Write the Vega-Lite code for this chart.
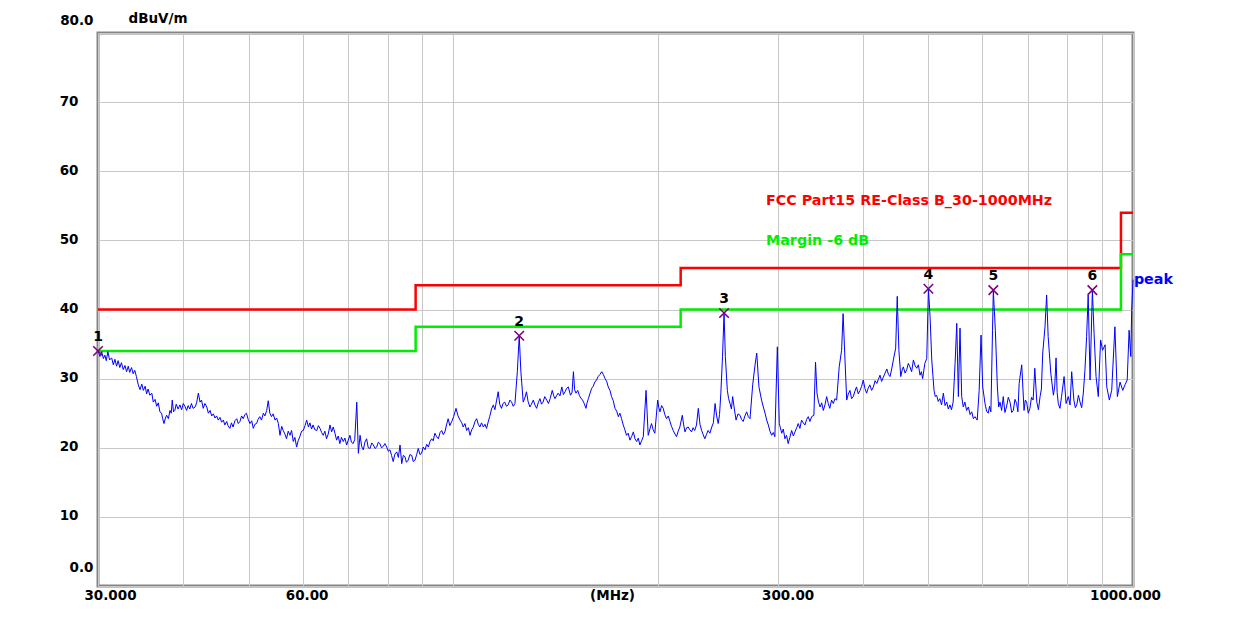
{
"$schema": "https://vega.github.io/schema/vega-lite/v6.json",
"width": 1035, "height": 553,
"autosize": "none",
"padding": {"left": 98, "top": 33, "right": 122, "bottom": 39},
"background": "white",
"config": {"view": {"stroke": "#858585", "strokeWidth": 3}, "font": "DejaVu Sans"},
"datasets": {
"limits": [
{"series":"limit","f":30,"v":40},{"series":"limit","f":88,"v":43.5},{"series":"limit","f":216,"v":46},{"series":"limit","f":960,"v":54},{"series":"limit","f":1000,"v":54},
{"series":"margin","f":30,"v":34},{"series":"margin","f":88,"v":37.5},{"series":"margin","f":216,"v":40},{"series":"margin","f":960,"v":48},{"series":"margin","f":1000,"v":48}
],
"trace": [
{"f":30.0,"v":34.0},{"f":30.2,"v":33.2},{"f":30.38,"v":33.9},{"f":30.55,"v":32.9},{"f":30.71,"v":33.4},{"f":30.85,"v":32.6},{"f":31.02,"v":33.9},{"f":31.2,"v":32.7},{"f":31.42,"v":33.0},{"f":31.6,"v":32.0},{"f":31.77,"v":32.8},{"f":31.95,"v":31.8},{"f":32.12,"v":32.6},{"f":32.3,"v":31.6},{"f":32.48,"v":32.3},{"f":32.68,"v":31.3},{"f":32.87,"v":31.9},{"f":33.05,"v":31.0},{"f":33.24,"v":31.8},{"f":33.4,"v":30.9},{"f":33.61,"v":31.6},{"f":33.8,"v":30.7},{"f":33.98,"v":31.2},{"f":34.17,"v":30.3},{"f":34.39,"v":29.1},{"f":34.59,"v":28.4},{"f":34.8,"v":29.2},{"f":34.98,"v":28.3},{"f":35.2,"v":28.9},{"f":35.37,"v":27.8},{"f":35.55,"v":28.5},{"f":35.76,"v":27.6},{"f":36.0,"v":27.9},{"f":36.18,"v":26.6},{"f":36.4,"v":27.0},{"f":36.60,"v":26.0},{"f":36.8,"v":26.5},{"f":37.0,"v":25.2},{"f":37.21,"v":25.0},{"f":37.35,"v":24.2},{"f":37.52,"v":23.5},{"f":37.7,"v":24.3},{"f":37.86,"v":24.7},{"f":38.08,"v":24.2},{"f":38.28,"v":25.4},{"f":38.45,"v":25.0},{"f":38.58,"v":26.9},{"f":38.75,"v":25.2},{"f":38.92,"v":25.4},{"f":39.1,"v":26.3},{"f":39.35,"v":25.6},{"f":39.6,"v":26.2},{"f":39.83,"v":25.5},{"f":40.05,"v":26.4},{"f":40.27,"v":26.0},{"f":40.5,"v":25.4},{"f":40.72,"v":26.1},{"f":40.95,"v":25.6},{"f":41.17,"v":26.4},{"f":41.4,"v":25.7},{"f":41.69,"v":25.9},{"f":41.9,"v":26.5},{"f":42.15,"v":27.9},{"f":42.39,"v":26.6},{"f":42.6,"v":26.9},{"f":42.85,"v":25.7},{"f":43.1,"v":26.4},{"f":43.37,"v":25.9},{"f":43.6,"v":25.0},{"f":43.86,"v":25.4},{"f":44.1,"v":24.6},{"f":44.34,"v":24.9},{"f":44.6,"v":24.3},{"f":44.84,"v":24.6},{"f":45.1,"v":24.0},{"f":45.36,"v":24.4},{"f":45.6,"v":23.7},{"f":45.87,"v":24.0},{"f":46.1,"v":23.3},{"f":46.40,"v":23.8},{"f":46.6,"v":23.2},{"f":46.90,"v":22.8},{"f":47.15,"v":23.6},{"f":47.41,"v":23.0},{"f":47.7,"v":23.9},{"f":48.0,"v":24.2},{"f":48.25,"v":23.5},{"f":48.53,"v":23.8},{"f":48.8,"v":24.6},{"f":49.07,"v":24.2},{"f":49.35,"v":24.8},{"f":49.61,"v":25.0},{"f":49.9,"v":24.1},{"f":50.21,"v":23.5},{"f":50.5,"v":23.9},{"f":50.77,"v":22.8},{"f":51.05,"v":23.4},{"f":51.34,"v":23.5},{"f":51.6,"v":24.1},{"f":51.90,"v":24.5},{"f":52.2,"v":24.0},{"f":52.53,"v":25.0},{"f":52.8,"v":24.6},{"f":53.13,"v":25.4},{"f":53.41,"v":26.8},{"f":53.7,"v":25.0},{"f":54.01,"v":24.5},{"f":54.3,"v":24.9},{"f":54.66,"v":24.0},{"f":54.95,"v":24.3},{"f":55.27,"v":23.5},{"f":55.58,"v":21.8},{"f":55.9,"v":23.1},{"f":56.19,"v":22.5},{"f":56.5,"v":22.0},{"f":56.82,"v":21.3},{"f":57.15,"v":22.4},{"f":57.50,"v":21.8},{"f":57.8,"v":22.5},{"f":58.14,"v":20.9},{"f":58.45,"v":21.5},{"f":58.80,"v":20.1},{"f":59.1,"v":21.0},{"f":59.44,"v":21.6},{"f":59.8,"v":22.4},{"f":60.14,"v":22.5},{"f":60.5,"v":23.2},{"f":60.84,"v":24.0},{"f":61.2,"v":23.0},{"f":61.51,"v":23.6},{"f":61.85,"v":22.7},{"f":62.17,"v":23.3},{"f":62.55,"v":22.6},{"f":62.95,"v":22.5},{"f":63.3,"v":23.2},{"f":63.65,"v":22.8},{"f":64.0,"v":22.2},{"f":64.35,"v":21.8},{"f":64.7,"v":22.4},{"f":65.07,"v":21.3},{"f":65.45,"v":22.0},{"f":65.84,"v":23.3},{"f":66.2,"v":22.3},{"f":66.57,"v":23.0},{"f":66.95,"v":22.1},{"f":67.33,"v":21.1},{"f":67.7,"v":21.7},{"f":68.07,"v":20.6},{"f":68.45,"v":21.5},{"f":68.87,"v":20.9},{"f":69.25,"v":21.4},{"f":69.66,"v":20.4},{"f":70.05,"v":21.1},{"f":70.43,"v":21.8},{"f":70.8,"v":20.8},{"f":71.20,"v":20.6},{"f":71.6,"v":21.2},{"f":72.09,"v":26.6},{"f":72.48,"v":19.2},{"f":72.90,"v":21.8},{"f":73.3,"v":20.2},{"f":73.70,"v":19.7},{"f":74.1,"v":20.8},{"f":74.53,"v":21.3},{"f":74.95,"v":20.0},{"f":75.41,"v":19.9},{"f":75.85,"v":20.7},{"f":76.26,"v":20.4},{"f":76.7,"v":19.9},{"f":77.12,"v":20.1},{"f":77.55,"v":20.8},{"f":77.97,"v":20.6},{"f":78.4,"v":20.0},{"f":78.88,"v":20.2},{"f":79.3,"v":20.6},{"f":79.79,"v":20.1},{"f":80.2,"v":19.5},{"f":80.68,"v":19.7},{"f":81.1,"v":18.9},{"f":81.56,"v":18.0},{"f":82.05,"v":19.1},{"f":82.55,"v":19.4},{"f":83.0,"v":18.6},{"f":83.47,"v":20.4},{"f":83.95,"v":17.7},{"f":84.4,"v":18.9},{"f":84.87,"v":18.7},{"f":85.3,"v":17.9},{"f":85.80,"v":18.2},{"f":86.3,"v":19.0},{"f":86.85,"v":18.9},{"f":87.3,"v":18.0},{"f":87.82,"v":18.2},{"f":88.3,"v":19.0},{"f":88.79,"v":19.9},{"f":89.3,"v":19.0},{"f":89.78,"v":19.2},{"f":90.3,"v":20.1},{"f":90.86,"v":19.7},{"f":91.35,"v":20.5},{"f":91.87,"v":20.1},{"f":92.4,"v":20.9},{"f":92.91,"v":21.3},{"f":93.4,"v":21.0},{"f":93.93,"v":22.1},{"f":94.5,"v":21.6},{"f":95.03,"v":21.3},{"f":95.6,"v":22.2},{"f":96.12,"v":22.5},{"f":96.65,"v":21.9},{"f":97.18,"v":22.3},{"f":97.7,"v":23.3},{"f":98.25,"v":24.2},{"f":98.8,"v":23.2},{"f":99.45,"v":23.8},{"f":100.1,"v":24.5},{"f":100.9,"v":25.7},{"f":101.6,"v":24.6},{"f":102.3,"v":24.0},{"f":102.9,"v":23.6},{"f":103.4,"v":23.0},{"f":104.0,"v":23.5},{"f":104.6,"v":22.5},{"f":105.2,"v":22.9},{"f":105.8,"v":21.8},{"f":106.4,"v":22.6},{"f":107.0,"v":23.0},{"f":107.6,"v":23.8},{"f":108.2,"v":24.2},{"f":108.8,"v":23.4},{"f":109.4,"v":23.0},{"f":110.0,"v":23.6},{"f":110.7,"v":23.0},{"f":111.3,"v":23.4},{"f":111.9,"v":22.8},{"f":112.5,"v":23.7},{"f":113.1,"v":24.5},{"f":113.8,"v":25.6},{"f":114.5,"v":26.2},{"f":115.1,"v":25.5},{"f":115.8,"v":26.9},{"f":116.4,"v":28.1},{"f":117.0,"v":26.3},{"f":117.7,"v":25.7},{"f":118.3,"v":26.4},{"f":119.0,"v":26.6},{"f":119.7,"v":26.0},{"f":120.4,"v":26.2},{"f":121.1,"v":26.9},{"f":121.8,"v":26.6},{"f":122.5,"v":26.0},{"f":123.2,"v":26.4},{"f":124.2,"v":31.0},{"f":125.0,"v":36.2},{"f":125.7,"v":31.0},{"f":126.7,"v":26.6},{"f":127.4,"v":27.2},{"f":128.1,"v":28.1},{"f":128.8,"v":26.7},{"f":129.6,"v":25.9},{"f":130.3,"v":26.3},{"f":131.1,"v":26.9},{"f":131.8,"v":26.2},{"f":132.6,"v":25.7},{"f":133.3,"v":26.5},{"f":134.1,"v":27.1},{"f":134.8,"v":26.3},{"f":135.5,"v":26.6},{"f":136.3,"v":27.4},{"f":137.2,"v":26.9},{"f":138.0,"v":26.4},{"f":138.8,"v":27.1},{"f":139.8,"v":28.3},{"f":140.5,"v":27.5},{"f":141.1,"v":27.1},{"f":141.8,"v":27.5},{"f":142.6,"v":27.9},{"f":143.5,"v":27.5},{"f":144.4,"v":28.8},{"f":145.2,"v":27.7},{"f":146.0,"v":28.1},{"f":146.8,"v":28.6},{"f":147.6,"v":28.8},{"f":148.7,"v":27.6},{"f":149.5,"v":28.0},{"f":150.2,"v":31.0},{"f":150.8,"v":28.4},{"f":151.5,"v":27.9},{"f":152.4,"v":28.3},{"f":153.2,"v":27.6},{"f":154.0,"v":27.2},{"f":154.9,"v":26.9},{"f":155.8,"v":26.4},{"f":156.7,"v":25.7},{"f":157.3,"v":26.5},{"f":158.0,"v":27.1},{"f":158.9,"v":27.9},{"f":159.8,"v":28.6},{"f":160.6,"v":28.9},{"f":161.5,"v":29.5},{"f":162.4,"v":29.8},{"f":163.3,"v":30.3},{"f":164.3,"v":30.6},{"f":165.3,"v":31.0},{"f":166.2,"v":30.6},{"f":167.2,"v":30.0},{"f":168.1,"v":29.6},{"f":169.0,"v":28.8},{"f":170.0,"v":28.3},{"f":170.9,"v":27.4},{"f":171.9,"v":26.8},{"f":172.9,"v":25.7},{"f":173.9,"v":25.3},{"f":174.9,"v":24.5},{"f":175.8,"v":25.0},{"f":176.8,"v":24.2},{"f":177.8,"v":23.3},{"f":178.8,"v":22.6},{"f":179.8,"v":21.8},{"f":180.8,"v":22.1},{"f":181.9,"v":21.1},{"f":182.9,"v":21.6},{"f":184.0,"v":22.3},{"f":185.0,"v":21.3},{"f":186.1,"v":20.9},{"f":187.1,"v":21.4},{"f":188.1,"v":20.4},{"f":189.2,"v":21.0},{"f":190.3,"v":21.6},{"f":192.1,"v":28.3},{"f":193.5,"v":21.8},{"f":194.6,"v":22.7},{"f":195.7,"v":23.5},{"f":196.8,"v":22.6},{"f":197.9,"v":22.1},{"f":199.8,"v":26.9},{"f":200.6,"v":25.8},{"f":201.4,"v":25.2},{"f":202.5,"v":26.1},{"f":203.6,"v":25.7},{"f":204.7,"v":24.8},{"f":205.9,"v":24.2},{"f":207.1,"v":24.6},{"f":208.3,"v":23.8},{"f":209.4,"v":23.1},{"f":210.6,"v":22.5},{"f":211.8,"v":22.0},{"f":213.0,"v":21.6},{"f":214.2,"v":22.4},{"f":215.4,"v":23.0},{"f":217.2,"v":24.7},{"f":218.2,"v":23.3},{"f":219.2,"v":22.3},{"f":220.4,"v":22.9},{"f":221.6,"v":23.0},{"f":222.8,"v":22.6},{"f":224.1,"v":22.3},{"f":225.3,"v":22.9},{"f":226.5,"v":22.5},{"f":227.9,"v":23.3},{"f":229.3,"v":25.7},{"f":230.6,"v":23.4},{"f":231.9,"v":22.5},{"f":233.1,"v":21.9},{"f":234.4,"v":21.3},{"f":235.7,"v":21.9},{"f":237.0,"v":22.5},{"f":238.5,"v":22.1},{"f":240.0,"v":23.0},{"f":241.3,"v":23.6},{"f":242.7,"v":26.4},{"f":244.0,"v":24.6},{"f":245.3,"v":23.5},{"f":246.4,"v":24.8},{"f":247.5,"v":27.9},{"f":248.9,"v":33.2},{"f":250.2,"v":39.5},{"f":251.3,"v":33.2},{"f":253.0,"v":28.3},{"f":254.1,"v":27.1},{"f":255.3,"v":26.4},{"f":256.5,"v":25.6},{"f":257.6,"v":27.4},{"f":259.1,"v":25.6},{"f":260.6,"v":24.0},{"f":262.3,"v":24.9},{"f":264.1,"v":24.7},{"f":265.5,"v":24.1},{"f":267.0,"v":23.8},{"f":268.5,"v":24.6},{"f":270.1,"v":25.2},{"f":271.6,"v":24.5},{"f":273.2,"v":24.2},{"f":275.7,"v":29.1},{"f":277.9,"v":32.0},{"f":279.5,"v":33.7},{"f":281.6,"v":28.8},{"f":284.1,"v":26.9},{"f":285.8,"v":25.9},{"f":287.5,"v":25.0},{"f":289.1,"v":24.0},{"f":290.7,"v":23.3},{"f":292.3,"v":22.4},{"f":294.0,"v":21.8},{"f":295.6,"v":22.2},{"f":297.2,"v":21.6},{"f":299.7,"v":34.6},{"f":301.7,"v":23.5},{"f":304.2,"v":22.1},{"f":305.8,"v":22.7},{"f":307.5,"v":21.3},{"f":309.2,"v":21.8},{"f":310.9,"v":20.6},{"f":312.7,"v":21.5},{"f":314.6,"v":22.5},{"f":316.4,"v":21.7},{"f":318.2,"v":22.3},{"f":320.0,"v":22.9},{"f":321.7,"v":23.5},{"f":323.5,"v":22.8},{"f":325.3,"v":24.0},{"f":327.2,"v":23.6},{"f":329.1,"v":23.3},{"f":331.0,"v":24.1},{"f":332.8,"v":24.5},{"f":334.7,"v":23.8},{"f":336.6,"v":24.5},{"f":339.2,"v":24.7},{"f":341.1,"v":32.4},{"f":342.8,"v":27.9},{"f":344.6,"v":26.6},{"f":346.4,"v":25.9},{"f":348.3,"v":26.5},{"f":350.2,"v":25.4},{"f":352.2,"v":26.2},{"f":354.2,"v":27.4},{"f":356.1,"v":26.4},{"f":358.0,"v":25.7},{"f":360.1,"v":26.9},{"f":362.3,"v":26.4},{"f":364.3,"v":27.1},{"f":366.4,"v":26.9},{"f":369.6,"v":31.7},{"f":372.6,"v":34.1},{"f":374.5,"v":39.4},{"f":376.9,"v":32.7},{"f":379.1,"v":26.9},{"f":381.2,"v":27.8},{"f":383.3,"v":28.3},{"f":385.4,"v":27.1},{"f":387.6,"v":27.4},{"f":389.8,"v":28.2},{"f":391.9,"v":28.8},{"f":394.2,"v":27.8},{"f":396.6,"v":28.3},{"f":398.8,"v":28.9},{"f":401.0,"v":29.8},{"f":403.2,"v":28.6},{"f":405.5,"v":27.9},{"f":407.7,"v":28.6},{"f":410.0,"v":29.1},{"f":412.5,"v":28.3},{"f":415.0,"v":28.8},{"f":417.4,"v":29.7},{"f":419.8,"v":29.3},{"f":422.1,"v":29.9},{"f":424.4,"v":30.5},{"f":426.7,"v":29.6},{"f":429.1,"v":30.2},{"f":431.7,"v":30.8},{"f":434.3,"v":31.4},{"f":436.7,"v":30.6},{"f":439.1,"v":30.3},{"f":441.5,"v":31.4},{"f":444.0,"v":32.7},{"f":447.5,"v":34.4},{"f":449.9,"v":41.9},{"f":452.4,"v":34.1},{"f":455.3,"v":30.3},{"f":457.3,"v":31.2},{"f":459.3,"v":31.7},{"f":462.0,"v":30.8},{"f":464.6,"v":31.3},{"f":467.1,"v":32.2},{"f":469.6,"v":31.7},{"f":472.4,"v":31.0},{"f":475.2,"v":32.7},{"f":477.9,"v":31.9},{"f":480.6,"v":31.5},{"f":483.3,"v":32.0},{"f":486.0,"v":30.5},{"f":488.2,"v":31.0},{"f":490.3,"v":30.0},{"f":494.0,"v":32.2},{"f":497.2,"v":32.9},{"f":500.0,"v":43.0},{"f":502.8,"v":39.0},{"f":505.7,"v":32.7},{"f":509.6,"v":28.3},{"f":511.8,"v":27.4},{"f":514.1,"v":27.6},{"f":516.9,"v":26.7},{"f":519.7,"v":27.1},{"f":522.8,"v":26.2},{"f":526.0,"v":27.9},{"f":529.0,"v":26.1},{"f":532.0,"v":26.6},{"f":534.9,"v":25.6},{"f":537.8,"v":26.2},{"f":540.7,"v":25.5},{"f":543.7,"v":26.6},{"f":547.3,"v":32.2},{"f":550.4,"v":38.0},{"f":553.4,"v":27.4},{"f":556.5,"v":37.3},{"f":559.7,"v":27.4},{"f":562.7,"v":25.9},{"f":565.8,"v":26.6},{"f":569.1,"v":25.4},{"f":572.5,"v":25.9},{"f":575.8,"v":24.8},{"f":579.1,"v":25.2},{"f":582.3,"v":24.2},{"f":585.5,"v":24.5},{"f":589.9,"v":24.0},{"f":593.8,"v":28.3},{"f":597.6,"v":36.3},{"f":601.0,"v":28.8},{"f":605.7,"v":26.4},{"f":609.0,"v":25.3},{"f":612.4,"v":25.0},{"f":615.1,"v":26.0},{"f":617.9,"v":25.2},{"f":621.3,"v":37.0},{"f":623.0,"v":42.8},{"f":627.3,"v":37.0},{"f":631.6,"v":28.8},{"f":634.4,"v":25.9},{"f":637.3,"v":26.6},{"f":640.8,"v":25.4},{"f":644.3,"v":27.4},{"f":647.9,"v":25.1},{"f":651.5,"v":25.9},{"f":655.4,"v":27.3},{"f":659.3,"v":26.6},{"f":663.0,"v":25.1},{"f":666.6,"v":25.4},{"f":670.4,"v":27.0},{"f":674.2,"v":26.4},{"f":677.1,"v":25.2},{"f":680.0,"v":29.3},{"f":685.9,"v":32.0},{"f":691.3,"v":25.4},{"f":694.4,"v":26.9},{"f":697.5,"v":26.6},{"f":701.3,"v":25.0},{"f":705.2,"v":25.7},{"f":709.0,"v":27.3},{"f":712.9,"v":26.9},{"f":717.0,"v":31.5},{"f":721.9,"v":26.6},{"f":725.9,"v":25.5},{"f":729.9,"v":27.4},{"f":733.2,"v":28.5},{"f":736.5,"v":33.7},{"f":742.2,"v":37.5},{"f":746.3,"v":42.1},{"f":750.2,"v":36.1},{"f":756.9,"v":30.8},{"f":763.6,"v":27.6},{"f":767.1,"v":28.9},{"f":770.5,"v":33.0},{"f":773.4,"v":28.0},{"f":776.4,"v":26.4},{"f":780.7,"v":25.7},{"f":785.0,"v":27.4},{"f":791.8,"v":30.3},{"f":797.1,"v":26.4},{"f":803.3,"v":27.4},{"f":807.9,"v":26.2},{"f":812.4,"v":31.0},{"f":818.5,"v":26.9},{"f":822.5,"v":25.8},{"f":826.6,"v":26.2},{"f":831.2,"v":27.6},{"f":835.8,"v":26.6},{"f":840.4,"v":25.8},{"f":845.1,"v":27.9},{"f":849.8,"v":31.3},{"f":854.6,"v":36.1},{"f":859.1,"v":42.1},{"f":864.7,"v":29.8},{"f":871.4,"v":42.8},{"f":876.5,"v":36.5},{"f":882.3,"v":30.3},{"f":889.1,"v":27.4},{"f":896.1,"v":35.6},{"f":902.0,"v":34.1},{"f":909.8,"v":34.9},{"f":915.0,"v":28.8},{"f":923.0,"v":26.9},{"f":930.4,"v":28.3},{"f":940.5,"v":37.5},{"f":948.4,"v":27.4},{"f":957.1,"v":29.5},{"f":965.8,"v":28.3},{"f":973.2,"v":29.1},{"f":980.6,"v":29.8},{"f":986.9,"v":37.0},{"f":992.5,"v":33.2},{"f":995.6,"v":39.9},{"f":1000,"v":44.3}
],
"markers": [
{"f":30.0,"v":34.0,"n":"1"},{"f":125.0,"v":36.2,"n":"2"},{"f":250.2,"v":39.5,"n":"3"},{"f":500.0,"v":43.0,"n":"4"},{"f":623.0,"v":42.8,"n":"5"},{"f":871.4,"v":42.8,"n":"6"}
],
"notes": [
{"series":"limit","f":288.4,"v":55.7,"t":"FCC Part15 RE-Class B_30-1000MHz"},
{"series":"margin","f":288.4,"v":49.9,"t":"Margin -6 dB"},
{"series":"peak","f":1003,"v":44.3,"t":"peak"}
]
},
"encoding": {
"x": {"field": "f", "type": "quantitative",
  "scale": {"type": "log", "domain": [30, 1000], "nice": false, "zero": false},
  "axis": {"values": [30,40,50,60,70,80,90,100,200,300,400,500,600,700,800,900,1000],
    "labelExpr": "datum.value==30?'30.000':datum.value==60?'60.00':datum.value==300?'300.00':datum.value==1000?'1000.000':''",
    "grid": true, "gridColor": "#c8c8c8", "gridWidth": 1, "ticks": false, "domain": false,
    "labelFont": "DejaVu Sans", "labelFontWeight": "bold", "labelFontSize": 13.5, "labelColor": "#000000",
    "labelPadding": 2, "labelFlush": false, "labelOverlap": false,
    "labelOffset": {"condition": [{"test": "datum.value == 30", "value": 12}, {"test": "datum.value == 300", "value": 10}, {"test": "datum.value == 1000", "value": -8}], "value": 4},
    "title": "(MHz)", "titleFont": "DejaVu Sans", "titleFontWeight": "bold", "titleFontSize": 13.5, "titleColor": "#000000",
    "titleX": 514, "titleY": 2, "titleBaseline": "top", "titleAlign": "center"}},
"y": {"field": "v", "type": "quantitative",
  "scale": {"domain": [0, 80], "nice": false, "zero": false},
  "axis": {"values": [0,10,20,30,40,50,60,70,80],
    "labelExpr": "datum.value==80?'80.0':datum.value==0?'0.0':datum.label",
    "grid": true, "gridColor": "#c8c8c8", "gridWidth": 1, "ticks": false, "domain": false,
    "labelFont": "DejaVu Sans", "labelFontWeight": "bold", "labelFontSize": 13.5, "labelColor": "#000000",
    "labelPadding": {"condition": {"test": "datum.value == 0 || datum.value == 80", "value": 5}, "value": 20},
    "labelOffset": {"condition": [{"test": "datum.value == 0", "value": -19}, {"test": "datum.value == 80", "value": -13}], "value": -1},
    "title": "dBuV/m", "titleFont": "DejaVu Sans", "titleFontWeight": "bold", "titleFontSize": 13.5, "titleColor": "#000000",
    "titleAngle": 0, "titleAlign": "left", "titleBaseline": "middle", "titleX": 30, "titleY": -15}}
},
"layer": [
{"data": {"name": "limits"},
 "mark": {"type": "line", "interpolate": "step-after", "strokeWidth": 2.5},
 "encoding": {"color": {"field": "series", "type": "nominal", "scale": {"domain": ["limit","margin","peak"], "range": ["#ff0000","#00ee00","#0000ff"]}, "legend": null}}},
{"data": {"name": "trace"},
 "mark": {"type": "line", "color": "#0000ff", "strokeWidth": 1}},
{"data": {"name": "markers"},
 "mark": {"type": "point", "shape": "M-1,-1L1,1M-1,1L1,-1", "filled": false, "color": "#800080", "strokeWidth": 1.6, "size": 90, "opacity": 1}},
{"data": {"name": "markers"},
 "mark": {"type": "text", "dy": -14, "font": "DejaVu Sans", "fontWeight": "bold", "fontSize": 14, "color": "#000000"},
 "encoding": {"text": {"field": "n", "type": "nominal"}}},
{"data": {"name": "notes"},
 "mark": {"type": "text", "align": "left", "baseline": "middle", "font": "DejaVu Sans", "fontWeight": "bold", "fontSize": 14.3},
 "encoding": {"text": {"field": "t", "type": "nominal"},
   "color": {"field": "series", "type": "nominal", "scale": {"domain": ["limit","margin","peak"], "range": ["#ff0000","#00ee00","#0000ff"]}, "legend": null}}}
]
}
